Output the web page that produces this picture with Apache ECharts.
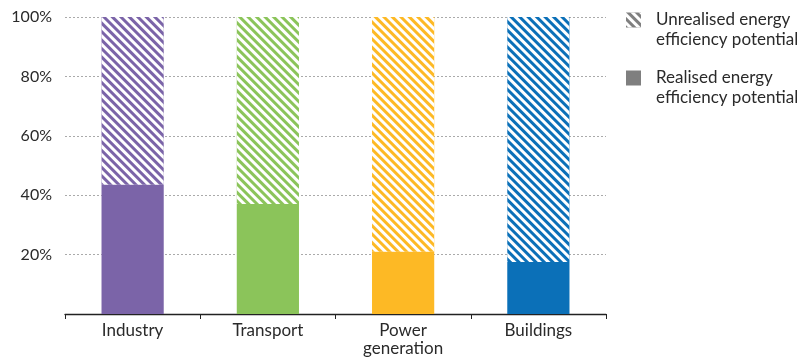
<!DOCTYPE html>
<html>
<head>
<meta charset="utf-8">
<script src="https://cdn.jsdelivr.net/npm/echarts@6/dist/echarts.min.js"></script>
<style>
  html, body { margin: 0; padding: 0; background: #fff; }
  #chart { width: 805px; height: 358px; }
</style>
</head>
<body>
<div id="chart"></div>
<script>
// sectors and their share of efficiency potential already realised (%)
const categories = ['Industry', 'Transport', 'Power\ngeneration', 'Buildings'];
const realised = [43.5, 37, 21, 17.5];
const unrealised = realised.map(v => 100 - v);
const sectorColors = ['#7B64A8', '#8BC45A', '#FDB925', '#0B70B8'];
const yTicks = [20, 40, 60, 80, 100];

const legendNames = ['Unrealised energy\nefficiency potential', 'Realised energy\nefficiency potential'];
const font = 'Lato, "Open Sans", sans-serif';

const hatch = {
    symbol: 'rect',
    color: '#ffffff',
    dashArrayX: [1, 0],
    dashArrayY: [2.6, 3],
    rotation: Math.PI / 4,
    symbolSize: 1
};

const chart = echarts.init(document.getElementById('chart'));

const option = {
    animation: false,
    grid: {
        left: 65,
        right: 199,
        top: 17,
        bottom: 44,
    },
    legend: {
        orient: 'vertical',
        left: 626,
        top: -10,
        padding: 0,
        itemWidth: 15,
        itemHeight: 15,
        itemGap: -2,
        icon: 'rect',
        data: legendNames,
        // leading blank line so the icon lines up with the first text line
        formatter: name => '\n' + name,
        textStyle: {
            fontFamily: font,
            fontSize: 17,
            color: '#2a2a2a',
            lineHeight: 20,
            padding: [0, 0, 0, 10]
        }
    },
    xAxis: {
        type: 'category',
        data: categories,
        axisLine: { lineStyle: { color: '#222', width: 1.3 } },
        axisTick: { show: true, length: 5, lineStyle: { color: '#222' } },
        axisLabel: {
            fontFamily: font,
            fontSize: 17,
            color: '#2a2a2a',
            margin: 8,
            lineHeight: 18
        }
    },
    yAxis: {
        type: 'value',
        min: 0,
        max: 100,
        interval: 20,
        axisLine: { show: false },
        axisTick: { show: false },
        axisLabel: {
            fontFamily: font,
            fontSize: 16,
            color: '#2a2a2a',
            margin: 13,
            formatter: v => (yTicks.includes(v) ? v + '%' : '')
        },
        splitLine: {
            lineStyle: { color: '#aaa', type: [2, 2], width: 1 }
        }
    },
    series: [
        {
            name: legendNames[1],
            type: 'bar',
            stack: 'total',
            barWidth: '46%',
            itemStyle: { color: '#7f7f7f' },
            data: realised.map((v, i) => ({ value: v, itemStyle: { color: sectorColors[i] } }))
        },
        {
            name: legendNames[0],
            type: 'bar',
            stack: 'total',
            barWidth: '46%',
            itemStyle: { color: '#7f7f7f', decal: hatch },
            data: unrealised.map((v, i) => ({ value: v, itemStyle: { color: sectorColors[i], decal: hatch } }))
        }
    ]
};

chart.setOption(option);
</script>
</body>
</html>
